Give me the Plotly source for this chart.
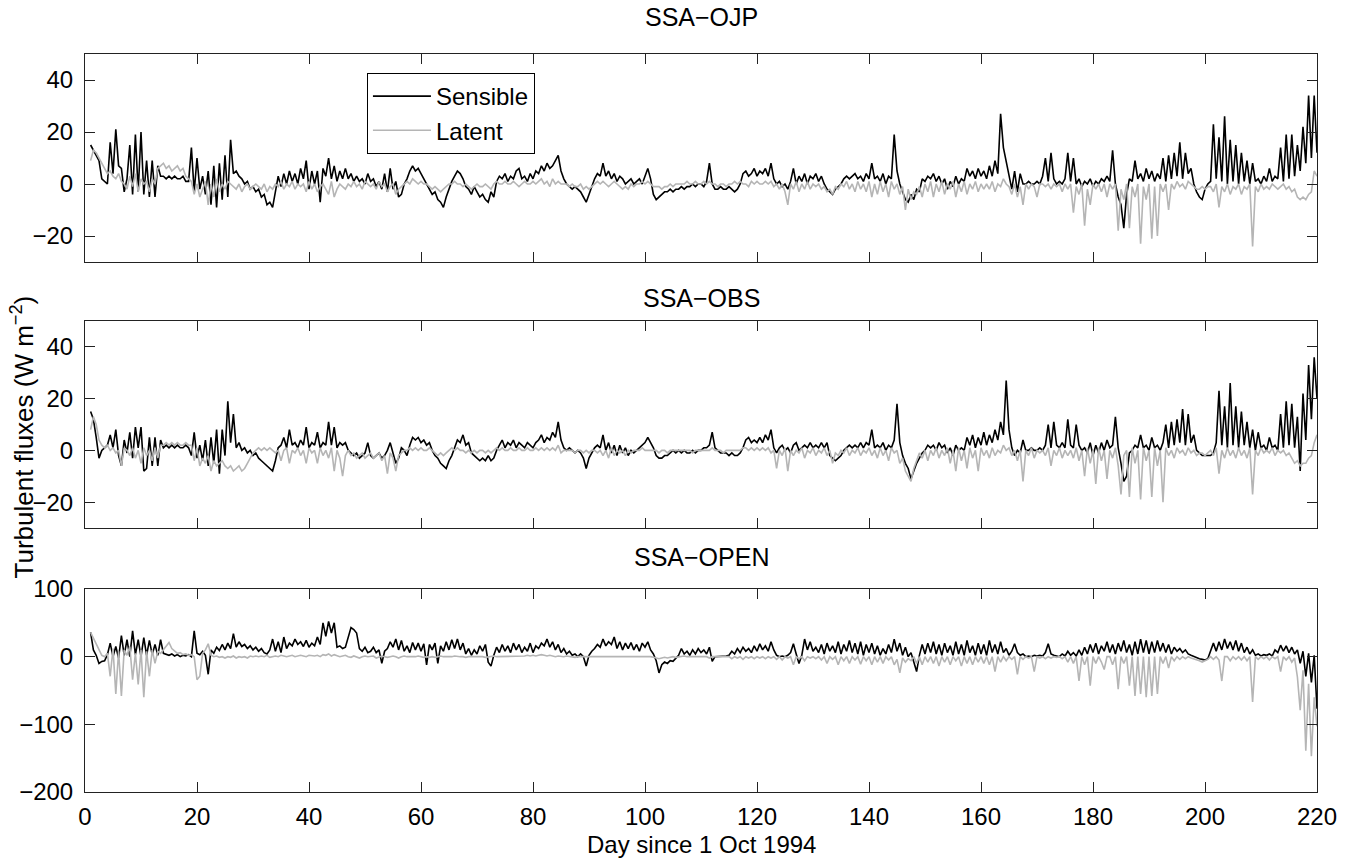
import plotly.graph_objects as go
from plotly.subplots import make_subplots

# ---------------- data (half-day samples, day 1 .. 220) ----------------
OJP_SENSIBLE = [
    15, 13, 11, 9, 2, 1, 0, 16, 4, 21, 7, 6, -3, 2, 15, -4, 19, -3, 20, -4,
    9, -5, 9, -5, 7, 3, 3, 2, 3, 2, 3, 2, 2, 3, 1, 1, 14, -3, 10, -2,
    3, -4, 5, -8, 7, -9, 8, -6, 11, -5, 17, 4, 5, 3, 2, 0, 1, -2, -1, -3,
    -2, -5, -4, -8, -7, -9, -3, 3, -1, 4, 0, 5, 1, 4, 0, 6, 2, 9, -2, 5,
    0, 5, -7, 6, 3, 10, 2, 7, 1, 5, 2, 6, 2, 4, 1, 3, 1, 2, 0, 4,
    1, 2, -1, 1, -2, 4, -3, 6, -2, 1, -5, -4, 0, 2, 5, 7, 5, 6, 4, 2,
    0, -2, -4, -3, -6, -7, -9, -5, -2, 1, 3, 5, 4, 2, -1, -2, -4, -1, -3, -5,
    -4, -6, -7, -3, -5, 1, 3, 2, 4, 1, 3, 2, 5, 6, 2, 3, 1, 4, 2, 5,
    4, 7, 5, 8, 6, 7, 9, 11, 5, 2, 0, -1, -2, -1, -2, -3, -5, -7, -4, -1,
    2, 4, 3, 8, 3, 5, 2, 4, 1, 3, 2, 0, 1, 2, 0, 1, 2, 0, 3, 6,
    2, -4, -6, -5, -4, -3, -3, -2, -3, -2, -2, -1, -2, -1, -1, 0, -1, 0, 0, -1,
    1, 8, 0, -2, -2, -1, -2, -2, -1, -2, -3, -2, 0, 4, 5, 3, 4, 6, 3, 5,
    4, 6, 3, 8, 2, 0, 1, -1, 0, -2, 1, 6, 0, 3, 1, 4, 0, 3, 2, 4,
    1, 3, 0, -2, -3, -4, -2, -1, 0, 2, 3, 2, 3, 4, 2, 3, 1, 4, 2, 8,
    2, 3, 1, 4, 0, 3, 2, 19, 5, 0, -3, -6, -7, -4, -6, -2, -3, 2, 1, 3,
    2, 4, 1, 3, 0, 2, -2, 1, -1, 3, 0, 2, 1, 6, 3, 5, 2, 6, 3, 5,
    2, 7, 3, 9, 4, 27, 14, 9, 4, -2, 5, -3, 4, 0, 0, 1, 0, 0, 1, 0,
    3, 10, 1, 12, 2, 0, 1, 0, 2, 12, 1, 10, 0, 2, -1, 1, 0, 2, -1, 1,
    0, 2, 1, 3, 1, 13, 0, -5, -8, -17, -4, 2, 1, 9, 2, 4, 1, 6, 2, 5,
    1, 4, 2, 10, 1, 11, 2, 12, 3, 16, 2, 12, 4, 6, 0, -3, -5, -6, -2, 0,
    1, 23, 2, 18, 1, 26, 0, 17, 1, 15, 0, 12, 1, 9, 0, 8, 1, 2, 0, 3,
    1, 6, 1, 3, 2, 14, 1, 19, 2, 19, 3, 15, 5, 22, 8, 34, 10, 34, 12,
]
OJP_LATENT = [
    9, 13, 12, 10, 8, 6, 4, 5, 3, 2, 4, 1, 0, -2, 3, -1, 4, -3, 2, 0,
    1, -3, 2, 0, 6, 7, 8, 6, 7, 5, 6, 7, 5, 6, 3, 2, 1, -4, 0, -5,
    -2, 1, -8, 0, -5, 2, -3, 0, -2, 1, 0, -1, -2, 0, -3, -1, 0, -2, -1, 0,
    -1, -2, 0, -3, -1, -2, 0, -1, 1, -2, 0, -1, 1, -2, 0, -1, 0, -3, 1, -2,
    0, -3, -1, 0, -2, -4, 1, -5, -2, 0, -1, -2, 0, -1, 1, -1, 0, -2, 1, 0,
    -1, 0, -2, 1, -1, 0, -3, -1, 0, -4, -2, -1, 0, 1, 0, 2, 1, 0, 1, 0,
    0, -1, -2, -1, -2, -3, -2, -1, 0, 0, 1, 0, 0, -1, 0, -1, -2, -1, 0, -1,
    -1, 0, -1, -2, 0, 1, 0, 0, 1, 0, 0, 1, 0, -1, 0, 1, 0, 0, 1, 0,
    1, 2, 0, 1, -1, 2, 0, 1, 0, 0, 0, -1, 0, -1, -1, 0, -2, -1, -2, -1,
    0, 1, 0, 1, 0, -1, 0, 1, 0, -1, -2, -1, -2, 0, -1, 0, 0, 1, 0, 1,
    0, -1, -1, -1, -2, -1, -1, 0, -1, 0, 0, 0, 0, 1, 0, 0, 1, 0, 0, 1,
    0, 1, 0, 0, -1, 0, 0, -1, 0, 0, 1, 0, 1, 0, 0, -1, 1, 0, 1, 0,
    0, 1, 0, 1, -1, 0, -2, 0, -3, -8, 0, -2, 1, -3, 0, -2, 1, -2, 0, -1,
    0, -2, -1, -3, -2, -4, -1, -2, 0, -1, 1, -2, 0, -3, 1, -2, 0, -3, 1, -5,
    0, -4, 1, -3, 0, -5, 1, -2, 0, -4, -1, -10, -2, -6, -3, -4, -1, -5, 0, -3,
    1, -5, 0, -3, 1, -4, 0, -2, 1, -5, 0, -3, 1, -4, 0, -2, 1, -3, 0, -2,
    0, -2, 1, -3, 0, -1, 2, 0, -1, -4, 0, -5, -1, -8, 0, -2, 0, -1, -5, 0,
    0, -1, 0, -2, 0, -1, 0, -3, 0, -2, 0, -11, -1, -4, 0, -16, -2, -8, 0, -2,
    0, -3, 0, -5, 0, -2, 0, -18, -2, -6, 0, -17, -1, -5, 0, -23, -1, -6, 0, -21,
    -1, -20, 0, -3, 0, -10, 0, -2, 1, -1, 0, -2, 1, 0, -1, -2, -2, -1, -2, -1,
    -1, -3, 0, -9, -1, -3, 0, -4, -1, -2, 0, -4, -1, -2, 0, -24, -1, -3, 0, -2,
    -1, -2, 0, -1, -2, -1, 0, -2, -1, -3, -2, -5, -6, -5, -6, -4, -3, 5, 3,
]
OBS_SENSIBLE = [
    15, 12, 5, -3, 0, 1, 2, 6, 1, 8, -2, -6, 4, -1, 7, -3, 9, 1, 9, -8,
    -7, 5, -6, 5, -6, 4, 1, 2, 1, 2, 1, 2, 1, 1, 2, 1, -2, 7, -3, 2,
    -4, 4, -6, 5, -5, 8, -9, 8, -2, 19, 3, 14, 1, 3, 0, 1, -1, 0, -2, -1,
    -3, -4, -5, -6, -7, -8, -4, 1, 2, 5, 1, 8, 2, 3, 1, 4, 2, 9, 1, 3,
    2, 7, 1, 3, 2, 11, 2, 9, 1, 3, 2, 3, 0, -1, -2, -1, -3, -2, -1, 3,
    -2, -3, -2, -1, -3, -2, 0, 3, -1, -5, -3, 1, 0, -2, 2, 5, 4, 5, 3, 4,
    2, 3, 0, -2, -3, -5, -6, -7, -4, -2, 1, 4, 3, 6, 2, 3, -1, -2, -3, -4,
    -3, -4, -2, -4, -3, 0, 2, 4, 1, 3, 2, 4, 1, 3, 2, 1, 3, 2, 1, 3,
    4, 6, 3, 5, 4, 7, 5, 11, 4, 1, 0, 1, 0, -1, 0, -1, -3, -7, -3, -1,
    1, 2, 1, 6, 0, 3, -1, 2, -2, 2, -1, 1, -2, 0, -1, 0, 1, 2, 3, 5,
    3, 1, -2, -3, -3, -2, -2, -1, 0, -1, 0, -1, 0, -1, -1, 0, -1, 0, 0, 1,
    1, 2, 7, 1, 0, -1, -1, -1, -2, -1, -2, -2, -1, 1, 4, 5, 3, 4, 3, 5,
    3, 6, 4, 8, 1, -1, 1, 2, 0, 1, -1, 2, 3, 0, 1, 2, 1, 3, 1, 2,
    1, 3, 1, 3, -2, -3, -4, -3, -2, 0, 1, 2, 1, 2, 1, 3, 1, 3, 2, 8,
    1, 2, 1, 3, 0, 2, 1, 4, 18, 3, -2, -5, -7, -11, -8, -5, -3, -1, 0, 2,
    1, 2, 0, 3, 1, 2, -1, 1, -2, 2, 0, 1, 0, 5, 2, 6, 1, 5, 2, 7,
    2, 6, 3, 8, 4, 11, 6, 27, 8, 1, -2, 0, -1, 4, 0, 0, 1, 0, 0, 1,
    0, 2, 10, 1, 11, 2, 1, 3, 1, 12, 2, 1, 10, 2, 0, 1, -1, 3, -2, 2,
    -1, 3, 0, 4, 1, 2, 13, 1, -5, -12, -10, -1, 0, 2, 1, 6, 1, 2, 0, 5,
    1, 2, 0, 3, 10, 1, 11, 2, 12, 3, 16, 2, 14, 3, 6, 0, -1, -2, -2, -2,
    -2, -1, 3, 23, 2, 17, 1, 26, 2, 17, 1, 15, 2, 11, 1, 8, 0, 7, 1, 2,
    0, 5, 1, 2, 0, 14, 1, 19, 2, 18, 1, 13, -8, 22, 4, 33, 12, 36, 20,
]
OBS_LATENT = [
    8, 13, 10, 4, 2, 1, 2, 0, 1, -1, 0, -6, 1, 0, -2, 1, -3, 0, -5, 1,
    -2, 0, -4, 1, -3, 2, 2, 3, 2, 3, 2, 3, 2, 2, 3, 2, 2, -4, 1, -6,
    -3, -5, -2, -8, -4, -6, -5, -4, -6, -7, -6, -8, -7, -6, -8, -7, -5, -3, -1, 0,
    1, 0, 1, 0, 1, 0, -1, 0, -4, 0, 1, -5, 0, -1, 1, -2, 0, -5, 1, -1,
    0, -5, 1, -2, 0, -3, 1, -8, 0, -3, -10, -2, 0, -2, -1, -3, -2, -1, -3, -2,
    -1, -3, -2, -1, -4, -2, -9, -1, -3, -8, -2, -1, 0, 0, 1, 0, 1, 0, 1, 0,
    0, 1, 0, -1, -2, -1, -2, -1, 0, 1, 0, 1, 0, 0, -1, 0, -1, 0, -1, 0,
    0, -1, 0, -1, 0, 1, 0, 1, 0, 0, 1, 0, 0, 1, 0, 0, 1, 0, 0, 1,
    0, 1, 0, 1, 0, 1, 0, 2, -1, 0, 0, 0, 0, -1, 0, 0, -1, 0, -1, 0,
    0, -1, 0, -2, 0, -3, 1, -2, 0, -1, 0, -2, 0, -1, 0, 0, 0, 1, 0, 0,
    0, 0, 0, -1, 0, 0, -1, 0, 0, 0, 0, 0, 0, 0, 0, -1, 0, 0, 0, 0,
    0, 0, 1, 0, 0, 0, -1, 0, 0, 0, 0, 0, 0, 1, 1, 0, 1, 0, 1, 0,
    1, 0, 1, -1, 0, -7, 0, -2, 1, -8, 0, -2, 0, -1, 1, -3, 0, -1, 1, -2,
    0, -1, 1, -2, 0, -5, -1, -2, 0, -1, 1, -2, 0, -1, 1, -2, 0, -1, 1, -2,
    0, -3, 1, -2, 0, -4, 1, -1, 0, -5, -3, -8, -10, -12, -7, -4, -1, -3, 0, -4,
    0, -2, 1, -3, 0, -2, 1, -5, 0, -8, 1, -4, 0, -7, 1, -3, 0, -8, 1, -2,
    0, -3, 1, -2, 0, -1, 2, 0, 1, -2, 0, -4, 0, -12, 0, -2, 1, -3, 0, -1,
    0, -2, 1, -6, 0, -2, 1, -3, 0, -2, 0, -3, 1, -4, 0, -10, 1, -5, 0, -13,
    1, -4, 0, -11, 0, -3, 1, -6, -17, -2, 0, -18, 1, -5, 0, -19, 1, -4, 0, -18,
    1, -6, 0, -20, 1, -2, 0, -3, 1, -1, 0, -2, 1, -1, 0, -2, -1, -1, -2, -1,
    0, -2, 1, -9, 0, -3, 1, -2, 0, -3, 1, -2, 0, -3, 1, -17, 0, -2, 1, -1,
    0, -1, 1, -2, 0, -1, 0, -2, -1, -3, -5, -4, -6, -5, -5, -3, -2, 3, 6,
]
OPEN_SENSIBLE = [
    36, 10, 2, -10, -7, -6, 3, 20, 0, 15, -2, 31, 2, 25, 0, 38, 3, 25, 0, 28,
    2, 24, 3, 18, 2, 25, 5, 3, 2, 4, 1, 3, 0, 2, 1, 3, 0, 38, 5, 3,
    8, 2, -26, 10, 5, 14, 9, 18, 10, 20, 12, 34, 14, 22, 15, 18, 12, 16, 10, 14,
    8, 12, 6, 4, 10, 26, 8, 22, 6, 29, 12, 20, 16, 26, 18, 22, 15, 24, 14, 20,
    16, 29, 18, 50, 30, 52, 35, 50, 14, 16, 12, 14, 30, 43, 40, 35, 12, 8, 14, 6,
    8, 14, 6, 10, -10, 8, 12, 22, 14, 26, 10, 24, 8, 16, 6, 21, 10, 20, 8, 19,
    -12, 18, 10, 20, -10, 16, 8, 22, 10, 25, 12, 26, 10, 20, 4, 12, 2, 10, 4, 16,
    8, 18, -8, -14, 2, 14, 6, 18, 8, 16, 6, 20, 10, 18, 6, 14, 8, 20, 6, 16,
    12, 20, 16, 26, 14, 22, 10, 18, 6, 12, 4, 8, 2, 4, 0, 4, 0, -14, 2, 8,
    12, 18, 14, 26, 16, 22, 18, 29, 12, 22, 10, 20, 12, 21, 10, 18, 8, 20, 14, 22,
    10, 4, -6, -24, -12, -8, -10, -6, -7, -3, 2, 12, 4, 8, 2, 10, 4, 12, 6, 10,
    4, 14, -7, 0, 0, 1, 0, 1, 2, 8, 4, 12, 6, 14, 8, 12, 6, 16, 8, 19,
    10, 16, 8, 22, 10, 2, 0, 1, 0, 2, 6, 19, 4, -10, 2, 26, 10, 22, 8, 14,
    6, 18, 4, 20, 8, 16, 6, 22, 4, 18, 8, 24, 6, 20, 4, 22, 2, 18, 6, 20,
    4, 16, 2, 12, 4, 18, 6, 26, 8, 20, 2, 14, 0, 6, -8, -22, 2, 18, 4, 20,
    6, 22, 4, 18, 2, 20, 6, 16, 2, 22, 4, 18, 2, 24, 6, 16, 2, 20, 4, 18,
    2, 24, 6, 18, 4, 22, 6, 12, 2, 8, 19, 6, 2, 4, 0, 1, 0, 2, 1, 2,
    1, 6, 19, 4, 2, 1, 0, 4, 1, 8, 2, 6, 1, 10, 2, 14, 4, 18, 6, 20,
    4, 16, 8, 22, 6, 18, 4, 20, 8, 24, 6, 18, 2, 22, 4, 26, 6, 24, 4, 22,
    6, 24, 8, 20, 6, 18, 4, 14, 8, 12, 6, 10, 4, 2, 0, -2, -3, -4, -5, -3,
    10, 20, 8, 22, 10, 26, 12, 22, 10, 24, 8, 20, 6, 14, 4, 10, 2, 4, 1, 3,
    2, 4, 1, 10, 6, 17, 8, 16, 6, 14, 4, 10, -10, 8, -29, 5, -38, 2, -77,
]
OPEN_LATENT = [
    36, 28, 19, 10, 2, 0, 5, -29, 12, -55, 8, -58, 10, 2, 15, -34, 5, -41, 10, -60,
    8, -29, 10, -10, 8, 5, 10, 15, 21, 12, 8, 5, 6, 3, 4, 2, 3, 0, -34, -29,
    5, 10, 19, 2, 0, 1, -1, 0, -2, 0, -1, 1, -2, 0, -1, 0, -2, 1, 0, 1,
    0, 1, 0, 2, -1, 0, 1, 0, 2, 1, 0, 1, 2, 0, 1, 2, 1, 0, 2, 1,
    1, 2, 0, 3, 2, 4, 1, 3, 2, 0, 1, 2, 0, -1, 1, 0, -2, 0, 1, 0,
    0, 1, -2, 0, 1, 0, -1, 0, 1, 0, -2, 0, 1, 0, 0, -1, 0, 1, 0, -1,
    0, -1, 0, -1, 0, 1, 0, 0, -1, 0, 1, 0, 0, 0, -1, 0, 0, 1, 0, 0,
    0, -1, 0, 0, 1, 0, 0, 1, 0, 0, 1, 0, 1, 0, 0, 1, 2, 1, 2, 1,
    2, 3, 2, 1, 2, 1, 0, 1, 0, 0, 1, 0, 0, -1, 0, 0, 0, 1, 0, 0,
    1, 0, 1, 0, 0, 1, 0, 0, 1, 0, 0, 1, 0, 0, 1, 0, 0, 1, 0, 0,
    0, -1, -2, -3, -2, -1, -2, -1, 0, -1, 0, 0, 1, 0, 0, 1, 0, 0, 1, 0,
    0, -2, 0, 0, 0, 0, 0, -1, 0, -3, 0, -2, 0, -4, 0, -2, 0, -3, 0, -2,
    0, -3, 0, -2, 0, -4, 0, -5, 0, -2, 0, -12, 0, -3, 0, -6, 0, -2, 0, -3,
    0, -5, 0, -10, 0, -4, 0, -12, 0, -6, 0, -10, 0, -5, 0, -11, 0, -6, 0, -12,
    0, -8, 0, -10, 0, -5, 0, -12, -4, -24, -2, -8, -3, -6, 0, -10, 0, -12, 0, -8,
    0, -10, 0, -14, 0, -8, 0, -12, 0, -6, 0, -14, 0, -10, 0, -12, 0, -8, 0, -10,
    0, -12, 0, -22, 0, -8, 0, -6, 0, -4, 0, -26, 0, -4, 0, -2, 0, -22, 0, -2,
    0, -3, 0, -2, 0, -1, 0, -3, 0, -8, 0, -10, 0, -36, 0, -12, 0, -43, 0, -10,
    0, -8, -19, 0, 0, -12, 0, -48, 0, -10, 0, -43, 0, -58, 0, -55, 0, -60, 0, -58,
    0, -55, 0, -10, 0, -17, 0, -6, 0, -4, 0, -3, 0, -2, -3, -5, -6, -8, -6, -4,
    0, -4, 0, -5, -36, 0, 0, -6, 0, -4, 0, -5, 0, -6, 0, -67, 0, -4, 0, -3,
    0, -5, 0, -3, 0, -22, 0, -5, 0, -8, -2, -30, -79, -20, -139, -40, -147, -60, -103,
]

PANEL_TITLES = ["SSA\u2212OJP", "SSA\u2212OBS", "SSA\u2212OPEN"]
X_TICKS = [0, 20, 40, 60, 80, 100, 120, 140, 160, 180, 200, 220]
Y_TICKS_SMALL = [-20, 0, 20, 40]
Y_TICKS_OPEN = [-200, -100, 0, 100]

FIRST_DAY = 1.0
STEP = 0.5


def days_for(values):
    return [FIRST_DAY + STEP * i for i in range(len(values))]


FONT = "Liberation Sans, Arial, Helvetica, sans-serif"
BLACK = "#000000"
GRAY = "#b5b5b5"

# The page body margin is removed by a post-script, so page pixels == figure pixels.
W, H = 1349, 859
PLOT_LEFT, PLOT_RIGHT, PLOT_TOP, PLOT_BOTTOM = 85, 1326, 54, 792
L = PLOT_LEFT
R = W - PLOT_RIGHT
T = PLOT_TOP
B = H - PLOT_BOTTOM
pw = PLOT_RIGHT - PLOT_LEFT
ph = PLOT_BOTTOM - PLOT_TOP


def py(page_y):
    return (PLOT_BOTTOM - page_y) / ph


def px(page_x):
    return (page_x - PLOT_LEFT) / pw


fig = make_subplots(rows=3, cols=1)

panels = [
    (OJP_SENSIBLE, OJP_LATENT),
    (OBS_SENSIBLE, OBS_LATENT),
    (OPEN_SENSIBLE, OPEN_LATENT),
]
for r, (sens, lat) in enumerate(panels, start=1):
    fig.add_trace(go.Scatter(x=days_for(sens), y=sens, mode="lines",
                             line=dict(color=BLACK, width=1.6),
                             name="Sensible", showlegend=(r == 1)), row=r, col=1)
    fig.add_trace(go.Scatter(x=days_for(lat), y=lat, mode="lines",
                             line=dict(color=GRAY, width=1.6),
                             name="Latent", showlegend=(r == 1)), row=r, col=1)

domains = [[py(262), py(54)], [py(528), py(321)], [py(792), py(589)]]

axis_common = dict(showline=True, linecolor="#222", linewidth=1, mirror="ticks",
                   ticks="inside", ticklen=10, tickwidth=1, tickcolor="#222",
                   showgrid=False, zeroline=False,
                   tickfont=dict(family=FONT, size=24, color=BLACK))

for r in range(1, 4):
    xa = "xaxis" if r == 1 else f"xaxis{r}"
    ya = "yaxis" if r == 1 else f"yaxis{r}"
    fig.layout[xa].update(range=[0, 220], tickvals=X_TICKS, ticktext=[str(v) for v in X_TICKS],
                          showticklabels=(r == 3), domain=[0, 1], ticklabelstandoff=3,
                          **axis_common)
    if r < 3:
        fig.layout[ya].update(range=[-30, 50], tickvals=Y_TICKS_SMALL, domain=domains[r - 1],
                              ticklabelstandoff=6, **axis_common)
    else:
        fig.layout[ya].update(range=[-200, 100], tickvals=Y_TICKS_OPEN, domain=domains[r - 1],
                              ticklabelstandoff=6, **axis_common)

annotations = []
title_py = [17, 298, 557]
for t, yy in zip(PANEL_TITLES, title_py):
    annotations.append(dict(text=t, xref="paper", yref="paper", x=0.5,
                            y=py(yy), xanchor="center", yanchor="middle",
                            showarrow=False, font=dict(family=FONT, size=25, color=BLACK)))
annotations.append(dict(text="Day since 1 Oct 1994", xref="paper", yref="paper",
                        x=0.5, y=py(844), xanchor="center", yanchor="middle",
                        showarrow=False, font=dict(family=FONT, size=24, color=BLACK)))
annotations.append(dict(text="Turbulent fluxes (W m<sup>\u22122</sup>)", xref="paper", yref="paper",
                        x=px(22), y=py(437),
                        xanchor="center", yanchor="middle", textangle=-90,
                        showarrow=False, font=dict(family=FONT, size=26, color=BLACK)))

fig.update_layout(
    width=W, height=H,
    margin=dict(l=L, r=R, t=T, b=B),
    paper_bgcolor="white", plot_bgcolor="white",
    font=dict(family=FONT, size=24, color=BLACK),
    annotations=annotations,
    legend=dict(x=px(369), y=py(73), xanchor="left", yanchor="top",
                bordercolor=BLACK, borderwidth=1, bgcolor="white",
                font=dict(family=FONT, size=24, color=BLACK), itemwidth=58,
                tracegroupgap=0),
    showlegend=True,
)

fig.write_html("out.html", config={"displayModeBar": False},
               post_script="document.body.style.margin='0px'; document.body.style.overflow='hidden';")
